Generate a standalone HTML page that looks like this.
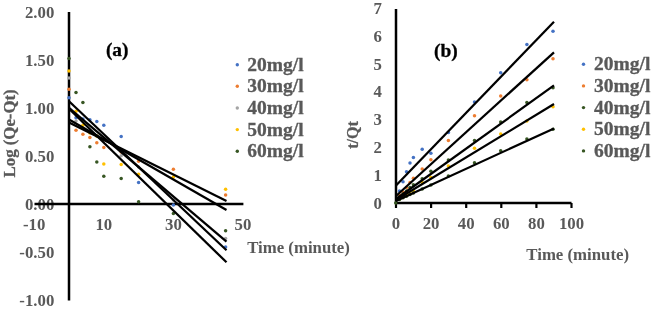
<!DOCTYPE html>
<html><head><meta charset="utf-8"><style>
html,body{margin:0;padding:0;background:#fff;}
svg{display:block;will-change:transform;}
text{font-family:"Liberation Serif",serif;font-weight:bold;}
</style></head><body>
<svg width="652" height="309" viewBox="0 0 652 309">
<rect width="652" height="309" fill="#fff"/>
<text x="54.3" y="17.6" font-size="16.8" text-anchor="end" fill="#595959" stroke="#595959" stroke-width="0.0" >2.00</text>
<text x="54.3" y="65.6" font-size="16.8" text-anchor="end" fill="#595959" stroke="#595959" stroke-width="0.0" >1.50</text>
<text x="54.3" y="113.6" font-size="16.8" text-anchor="end" fill="#595959" stroke="#595959" stroke-width="0.0" >1.00</text>
<text x="54.3" y="161.6" font-size="16.8" text-anchor="end" fill="#595959" stroke="#595959" stroke-width="0.0" >0.50</text>
<text x="54.3" y="209.6" font-size="16.8" text-anchor="end" fill="#595959" stroke="#595959" stroke-width="0.0" >0.00</text>
<text x="54.3" y="257.6" font-size="16.8" text-anchor="end" fill="#595959" stroke="#595959" stroke-width="0.0" >-0.50</text>
<text x="54.3" y="305.6" font-size="16.8" text-anchor="end" fill="#595959" stroke="#595959" stroke-width="0.0" >-1.00</text>
<text x="34.2" y="229.8" font-size="16.8" text-anchor="middle" fill="#595959" stroke="#595959" stroke-width="0.0" >-10</text>
<text x="103.8" y="229.8" font-size="16.8" text-anchor="middle" fill="#595959" stroke="#595959" stroke-width="0.0" >10</text>
<text x="173.4" y="229.8" font-size="16.8" text-anchor="middle" fill="#595959" stroke="#595959" stroke-width="0.0" >30</text>
<text x="243.0" y="229.8" font-size="16.8" text-anchor="middle" fill="#595959" stroke="#595959" stroke-width="0.0" >50</text>
<text x="0" y="0" font-size="16.8" text-anchor="middle" fill="#595959" stroke="#595959" stroke-width="0.3" transform="translate(15.2,133.4) rotate(-90)">Log (Qe-Qt)</text>
<text x="298.5" y="252.6" font-size="16.8" text-anchor="middle" fill="#595959" stroke="#595959" stroke-width="0.0" >Time (minute)</text>
<text x="117.2" y="55.8" font-size="19.4" text-anchor="middle" fill="#000" stroke="#000" stroke-width="0.3" >(a)</text>
<line x1="34.5" y1="204.0" x2="243.4" y2="204.0" stroke="#000" stroke-width="2.5"/>
<line x1="69.0" y1="12" x2="69.0" y2="300.4" stroke="#000" stroke-width="2.5"/>
<circle cx="69.0" cy="97.8" r="1.75" fill="#4472c4"/>
<circle cx="76.0" cy="117.8" r="1.75" fill="#4472c4"/>
<circle cx="82.9" cy="119.0" r="1.75" fill="#4472c4"/>
<circle cx="89.9" cy="119.7" r="1.75" fill="#4472c4"/>
<circle cx="96.8" cy="121.5" r="1.75" fill="#4472c4"/>
<circle cx="103.8" cy="125.3" r="1.75" fill="#4472c4"/>
<circle cx="121.2" cy="136.4" r="1.75" fill="#4472c4"/>
<circle cx="138.6" cy="182.4" r="1.75" fill="#4472c4"/>
<circle cx="173.4" cy="205.0" r="1.75" fill="#4472c4"/>
<circle cx="225.6" cy="246.9" r="1.75" fill="#4472c4"/>
<circle cx="69.0" cy="89.2" r="1.75" fill="#ed7d31"/>
<circle cx="76.0" cy="130.3" r="1.75" fill="#ed7d31"/>
<circle cx="82.9" cy="134.3" r="1.75" fill="#ed7d31"/>
<circle cx="89.9" cy="137.4" r="1.75" fill="#ed7d31"/>
<circle cx="96.8" cy="142.8" r="1.75" fill="#ed7d31"/>
<circle cx="103.8" cy="147.4" r="1.75" fill="#ed7d31"/>
<circle cx="121.2" cy="152.0" r="1.75" fill="#ed7d31"/>
<circle cx="138.6" cy="161.3" r="1.75" fill="#ed7d31"/>
<circle cx="173.4" cy="169.3" r="1.75" fill="#ed7d31"/>
<circle cx="225.6" cy="195.1" r="1.75" fill="#ed7d31"/>
<circle cx="69.0" cy="77.9" r="1.75" fill="#a5a5a5"/>
<circle cx="76.0" cy="121.0" r="1.75" fill="#a5a5a5"/>
<circle cx="82.9" cy="128.0" r="1.75" fill="#a5a5a5"/>
<circle cx="89.9" cy="132.0" r="1.75" fill="#a5a5a5"/>
<circle cx="96.8" cy="136.0" r="1.75" fill="#a5a5a5"/>
<circle cx="103.8" cy="140.0" r="1.75" fill="#a5a5a5"/>
<circle cx="121.2" cy="155.8" r="1.75" fill="#a5a5a5"/>
<circle cx="138.6" cy="167.0" r="1.75" fill="#a5a5a5"/>
<circle cx="173.4" cy="200.0" r="1.75" fill="#a5a5a5"/>
<circle cx="225.6" cy="238.5" r="1.75" fill="#a5a5a5"/>
<circle cx="69.0" cy="71.0" r="1.75" fill="#ffc000"/>
<circle cx="76.0" cy="111.3" r="1.75" fill="#ffc000"/>
<circle cx="82.9" cy="125.2" r="1.75" fill="#ffc000"/>
<circle cx="89.9" cy="133.0" r="1.75" fill="#ffc000"/>
<circle cx="96.8" cy="136.0" r="1.75" fill="#ffc000"/>
<circle cx="103.8" cy="164.1" r="1.75" fill="#ffc000"/>
<circle cx="121.2" cy="164.6" r="1.75" fill="#ffc000"/>
<circle cx="138.6" cy="174.2" r="1.75" fill="#ffc000"/>
<circle cx="173.4" cy="176.9" r="1.75" fill="#ffc000"/>
<circle cx="225.6" cy="189.2" r="1.75" fill="#ffc000"/>
<circle cx="69.0" cy="58.6" r="1.75" fill="#375623"/>
<circle cx="76.0" cy="92.6" r="1.75" fill="#375623"/>
<circle cx="82.9" cy="102.6" r="1.75" fill="#375623"/>
<circle cx="89.9" cy="146.7" r="1.75" fill="#375623"/>
<circle cx="96.8" cy="161.9" r="1.75" fill="#375623"/>
<circle cx="103.8" cy="176.2" r="1.75" fill="#375623"/>
<circle cx="121.2" cy="178.4" r="1.75" fill="#375623"/>
<circle cx="138.6" cy="201.7" r="1.75" fill="#375623"/>
<circle cx="173.4" cy="213.4" r="1.75" fill="#375623"/>
<circle cx="225.6" cy="230.7" r="1.75" fill="#375623"/>
<line x1="69.0" y1="122.6" x2="226.5" y2="201.1" stroke="#000" stroke-width="2.25"/>
<line x1="69.0" y1="119.5" x2="226.5" y2="209.9" stroke="#000" stroke-width="2.25"/>
<line x1="69.0" y1="107.9" x2="226.5" y2="241.7" stroke="#000" stroke-width="2.25"/>
<line x1="69.0" y1="101.2" x2="226.5" y2="250.3" stroke="#000" stroke-width="2.25"/>
<line x1="69.0" y1="108.7" x2="226.5" y2="262.3" stroke="#000" stroke-width="2.25"/>
<circle cx="237.3" cy="64.7" r="1.7" fill="#4472c4"/>
<text x="247.3" y="70.6" font-size="19.5" text-anchor="start" fill="#595959" stroke="#595959" stroke-width="0.3" >20mg/l</text>
<circle cx="237.3" cy="86.3" r="1.7" fill="#ed7d31"/>
<text x="247.3" y="92.25" font-size="19.5" text-anchor="start" fill="#595959" stroke="#595959" stroke-width="0.3" >30mg/l</text>
<circle cx="237.3" cy="108.0" r="1.7" fill="#a5a5a5"/>
<text x="247.3" y="113.89999999999999" font-size="19.5" text-anchor="start" fill="#595959" stroke="#595959" stroke-width="0.3" >40mg/l</text>
<circle cx="237.3" cy="129.6" r="1.7" fill="#ffc000"/>
<text x="247.3" y="135.54999999999998" font-size="19.5" text-anchor="start" fill="#595959" stroke="#595959" stroke-width="0.3" >50mg/l</text>
<circle cx="237.3" cy="151.3" r="1.7" fill="#375623"/>
<text x="247.3" y="157.2" font-size="19.5" text-anchor="start" fill="#595959" stroke="#595959" stroke-width="0.3" >60mg/l</text>
<text x="381.8" y="208.6" font-size="16.8" text-anchor="end" fill="#595959" stroke="#595959" stroke-width="0.0" >0</text>
<text x="381.8" y="180.79999999999998" font-size="16.8" text-anchor="end" fill="#595959" stroke="#595959" stroke-width="0.0" >1</text>
<text x="381.8" y="153.0" font-size="16.8" text-anchor="end" fill="#595959" stroke="#595959" stroke-width="0.0" >2</text>
<text x="381.8" y="125.19999999999999" font-size="16.8" text-anchor="end" fill="#595959" stroke="#595959" stroke-width="0.0" >3</text>
<text x="381.8" y="97.39999999999999" font-size="16.8" text-anchor="end" fill="#595959" stroke="#595959" stroke-width="0.0" >4</text>
<text x="381.8" y="69.6" font-size="16.8" text-anchor="end" fill="#595959" stroke="#595959" stroke-width="0.0" >5</text>
<text x="381.8" y="41.79999999999999" font-size="16.8" text-anchor="end" fill="#595959" stroke="#595959" stroke-width="0.0" >6</text>
<text x="381.8" y="14.000000000000005" font-size="16.8" text-anchor="end" fill="#595959" stroke="#595959" stroke-width="0.0" >7</text>
<text x="396.0" y="228.6" font-size="16.8" text-anchor="middle" fill="#595959" stroke="#595959" stroke-width="0.0" >0</text>
<text x="431.1" y="228.6" font-size="16.8" text-anchor="middle" fill="#595959" stroke="#595959" stroke-width="0.0" >20</text>
<text x="466.2" y="228.6" font-size="16.8" text-anchor="middle" fill="#595959" stroke="#595959" stroke-width="0.0" >40</text>
<text x="501.3" y="228.6" font-size="16.8" text-anchor="middle" fill="#595959" stroke="#595959" stroke-width="0.0" >60</text>
<text x="536.4" y="228.6" font-size="16.8" text-anchor="middle" fill="#595959" stroke="#595959" stroke-width="0.0" >80</text>
<text x="571.5" y="228.6" font-size="16.8" text-anchor="middle" fill="#595959" stroke="#595959" stroke-width="0.0" >100</text>
<text x="0" y="0" font-size="16" text-anchor="middle" fill="#595959" stroke="#595959" stroke-width="0.3" transform="translate(357.9,135) rotate(-90)">t/Qt</text>
<text x="577.7" y="260.4" font-size="16.8" text-anchor="middle" fill="#595959" stroke="#595959" stroke-width="0.0" >Time (minute)</text>
<text x="445.9" y="57.2" font-size="19.4" text-anchor="middle" fill="#000" stroke="#000" stroke-width="0.3" >(b)</text>
<line x1="396.0" y1="203" x2="571.5" y2="203" stroke="#000" stroke-width="2.5"/>
<line x1="396.0" y1="9" x2="396.0" y2="203" stroke="#000" stroke-width="2.5"/>
<line x1="396.0" y1="203" x2="396.0" y2="208.0" stroke="#000" stroke-width="2.2"/>
<line x1="431.1" y1="203" x2="431.1" y2="208.0" stroke="#000" stroke-width="2.2"/>
<line x1="466.2" y1="203" x2="466.2" y2="208.0" stroke="#000" stroke-width="2.2"/>
<line x1="501.3" y1="203" x2="501.3" y2="208.0" stroke="#000" stroke-width="2.2"/>
<line x1="536.4" y1="203" x2="536.4" y2="208.0" stroke="#000" stroke-width="2.2"/>
<line x1="571.5" y1="203" x2="571.5" y2="208.0" stroke="#000" stroke-width="2.2"/>
<circle cx="399.5" cy="190.9" r="1.75" fill="#4472c4"/>
<circle cx="403.0" cy="181.8" r="1.75" fill="#4472c4"/>
<circle cx="406.5" cy="171.7" r="1.75" fill="#4472c4"/>
<circle cx="410.0" cy="162.9" r="1.75" fill="#4472c4"/>
<circle cx="413.4" cy="157.5" r="1.75" fill="#4472c4"/>
<circle cx="422.2" cy="149.3" r="1.75" fill="#4472c4"/>
<circle cx="430.9" cy="153.2" r="1.75" fill="#4472c4"/>
<circle cx="448.4" cy="132.6" r="1.75" fill="#4472c4"/>
<circle cx="474.5" cy="102.0" r="1.75" fill="#4472c4"/>
<circle cx="500.7" cy="72.7" r="1.75" fill="#4472c4"/>
<circle cx="526.9" cy="44.4" r="1.75" fill="#4472c4"/>
<circle cx="553.0" cy="31.3" r="1.75" fill="#4472c4"/>
<circle cx="399.5" cy="195.0" r="1.75" fill="#ed7d31"/>
<circle cx="403.0" cy="192.1" r="1.75" fill="#ed7d31"/>
<circle cx="406.5" cy="187.5" r="1.75" fill="#ed7d31"/>
<circle cx="410.0" cy="182.5" r="1.75" fill="#ed7d31"/>
<circle cx="413.4" cy="178.3" r="1.75" fill="#ed7d31"/>
<circle cx="422.2" cy="169.1" r="1.75" fill="#ed7d31"/>
<circle cx="430.9" cy="159.7" r="1.75" fill="#ed7d31"/>
<circle cx="448.4" cy="140.4" r="1.75" fill="#ed7d31"/>
<circle cx="474.5" cy="115.8" r="1.75" fill="#ed7d31"/>
<circle cx="500.7" cy="95.9" r="1.75" fill="#ed7d31"/>
<circle cx="526.9" cy="79.8" r="1.75" fill="#ed7d31"/>
<circle cx="553.0" cy="58.7" r="1.75" fill="#ed7d31"/>
<circle cx="399.5" cy="197.0" r="1.75" fill="#375623"/>
<circle cx="403.0" cy="194.0" r="1.75" fill="#375623"/>
<circle cx="406.5" cy="191.0" r="1.75" fill="#375623"/>
<circle cx="410.0" cy="187.5" r="1.75" fill="#375623"/>
<circle cx="413.4" cy="184.8" r="1.75" fill="#375623"/>
<circle cx="422.2" cy="178.7" r="1.75" fill="#375623"/>
<circle cx="430.9" cy="171.3" r="1.75" fill="#375623"/>
<circle cx="448.4" cy="160.1" r="1.75" fill="#375623"/>
<circle cx="474.5" cy="140.4" r="1.75" fill="#375623"/>
<circle cx="500.7" cy="121.9" r="1.75" fill="#375623"/>
<circle cx="526.9" cy="102.4" r="1.75" fill="#375623"/>
<circle cx="553.0" cy="87.7" r="1.75" fill="#375623"/>
<circle cx="399.5" cy="199.0" r="1.75" fill="#ffc000"/>
<circle cx="403.0" cy="197.0" r="1.75" fill="#ffc000"/>
<circle cx="406.5" cy="195.0" r="1.75" fill="#ffc000"/>
<circle cx="410.0" cy="193.3" r="1.75" fill="#ffc000"/>
<circle cx="413.4" cy="190.9" r="1.75" fill="#ffc000"/>
<circle cx="422.2" cy="182.6" r="1.75" fill="#ffc000"/>
<circle cx="430.9" cy="177.5" r="1.75" fill="#ffc000"/>
<circle cx="448.4" cy="165.9" r="1.75" fill="#ffc000"/>
<circle cx="474.5" cy="148.2" r="1.75" fill="#ffc000"/>
<circle cx="500.7" cy="134.0" r="1.75" fill="#ffc000"/>
<circle cx="526.9" cy="121.0" r="1.75" fill="#ffc000"/>
<circle cx="553.0" cy="106.7" r="1.75" fill="#ffc000"/>
<circle cx="399.5" cy="199.4" r="1.75" fill="#375623"/>
<circle cx="403.0" cy="197.8" r="1.75" fill="#375623"/>
<circle cx="406.5" cy="196.2" r="1.75" fill="#375623"/>
<circle cx="410.0" cy="194.5" r="1.75" fill="#375623"/>
<circle cx="413.4" cy="192.9" r="1.75" fill="#375623"/>
<circle cx="422.2" cy="188.9" r="1.75" fill="#375623"/>
<circle cx="430.9" cy="184.9" r="1.75" fill="#375623"/>
<circle cx="448.4" cy="176.0" r="1.75" fill="#375623"/>
<circle cx="474.5" cy="162.7" r="1.75" fill="#375623"/>
<circle cx="500.7" cy="150.7" r="1.75" fill="#375623"/>
<circle cx="526.9" cy="139.0" r="1.75" fill="#375623"/>
<circle cx="553.0" cy="129.3" r="1.75" fill="#375623"/>
<circle cx="395.7" cy="202.9" r="1.75" fill="#375623"/>
<line x1="396.0" y1="185.5" x2="554.0" y2="21.7" stroke="#000" stroke-width="2.25"/>
<line x1="396.0" y1="196.0" x2="554.0" y2="52.3" stroke="#000" stroke-width="2.25"/>
<line x1="396.0" y1="199.0" x2="554.0" y2="85.4" stroke="#000" stroke-width="2.25"/>
<line x1="396.0" y1="200.0" x2="554.0" y2="104.0" stroke="#000" stroke-width="2.25"/>
<line x1="396.0" y1="201.0" x2="554.0" y2="128.4" stroke="#000" stroke-width="2.25"/>
<circle cx="583.5" cy="64.3" r="1.7" fill="#4472c4"/>
<text x="594.1" y="70.2" font-size="19.5" text-anchor="start" fill="#595959" stroke="#595959" stroke-width="0.3" >20mg/l</text>
<circle cx="583.5" cy="85.9" r="1.7" fill="#ed7d31"/>
<text x="594.1" y="91.85" font-size="19.5" text-anchor="start" fill="#595959" stroke="#595959" stroke-width="0.3" >30mg/l</text>
<circle cx="583.5" cy="107.6" r="1.7" fill="#375623"/>
<text x="594.1" y="113.5" font-size="19.5" text-anchor="start" fill="#595959" stroke="#595959" stroke-width="0.3" >40mg/l</text>
<circle cx="583.5" cy="129.2" r="1.7" fill="#ffc000"/>
<text x="594.1" y="135.14999999999998" font-size="19.5" text-anchor="start" fill="#595959" stroke="#595959" stroke-width="0.3" >50mg/l</text>
<circle cx="583.5" cy="150.9" r="1.7" fill="#375623"/>
<text x="594.1" y="156.8" font-size="19.5" text-anchor="start" fill="#595959" stroke="#595959" stroke-width="0.3" >60mg/l</text>
</svg>
</body></html>
